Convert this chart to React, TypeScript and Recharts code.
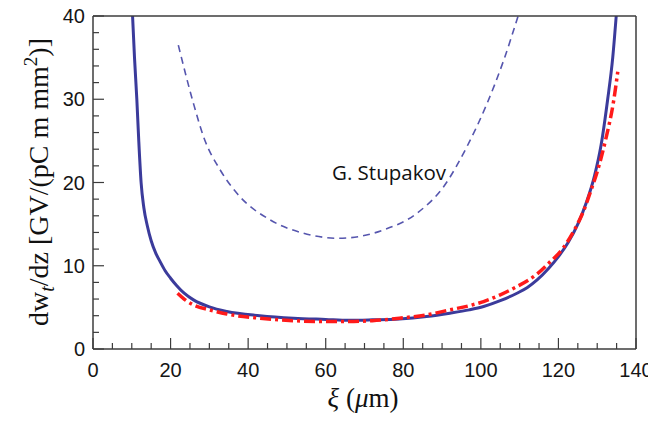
import { LineChart, Line, XAxis, YAxis } from 'recharts'

// wake field curves
const fullCalc = [
  { x: 10.2, y: 40 }, { x: 10.7, y: 35 }, { x: 11.3, y: 30 }, { x: 11.8, y: 25 },
  { x: 12.4, y: 20 }, { x: 13.1, y: 17 }, { x: 14.0, y: 14.8 }, { x: 15.0, y: 13.0 },
  { x: 16.1, y: 11.6 }, { x: 17.3, y: 10.5 }, { x: 18.6, y: 9.4 }, { x: 20, y: 8.5 },
  { x: 21.6, y: 7.6 }, { x: 23.5, y: 6.7 }, { x: 25.9, y: 5.9 }, { x: 30, y: 5.05 },
  { x: 34.5, y: 4.5 }, { x: 43, y: 4.0 }, { x: 51.7, y: 3.7 }, { x: 60, y: 3.55 },
  { x: 66, y: 3.45 }, { x: 72, y: 3.5 }, { x: 79, y: 3.6 }, { x: 86, y: 3.9 },
  { x: 92, y: 4.3 }, { x: 97, y: 4.7 }, { x: 100.7, y: 5.1 }, { x: 105, y: 5.8 },
  { x: 109.3, y: 6.7 }, { x: 112, y: 7.4 }, { x: 114.5, y: 8.3 }, { x: 117.5, y: 9.7 },
  { x: 120, y: 11.1 }, { x: 122.5, y: 12.8 }, { x: 125, y: 15 }, { x: 127.2, y: 17.6 },
  { x: 129.3, y: 20.8 }, { x: 131, y: 24.5 }, { x: 132.7, y: 30 }, { x: 134, y: 35 },
  { x: 134.9, y: 40 },
]

const fitCurve = [
  { x: 21.8, y: 6.7 }, { x: 23.5, y: 6.0 }, { x: 25.9, y: 5.3 }, { x: 30, y: 4.7 },
  { x: 34.5, y: 4.2 }, { x: 43, y: 3.7 }, { x: 51.7, y: 3.4 }, { x: 60, y: 3.3 },
  { x: 66, y: 3.3 }, { x: 72, y: 3.4 }, { x: 79, y: 3.7 }, { x: 86, y: 4.1 },
  { x: 92, y: 4.7 }, { x: 97, y: 5.2 }, { x: 100.7, y: 5.7 }, { x: 105, y: 6.5 },
  { x: 109.3, y: 7.5 }, { x: 112, y: 8.2 }, { x: 114.5, y: 9.0 }, { x: 117.5, y: 10.3 },
  { x: 121, y: 12.0 }, { x: 124, y: 14.2 }, { x: 126.5, y: 16.6 }, { x: 128.5, y: 19.2 },
  { x: 130, y: 21.3 }, { x: 132.1, y: 25 }, { x: 134.3, y: 30 }, { x: 135.3, y: 33.3 },
]

const stupakov = [
  { x: 22.0, y: 36.5 }, { x: 25.9, y: 29.5 }, { x: 28.5, y: 25.5 }, { x: 32.8, y: 21.5 },
  { x: 37.1, y: 18.7 }, { x: 45.7, y: 15.5 }, { x: 54.3, y: 13.9 }, { x: 63.3, y: 13.3 },
  { x: 74.9, y: 14.3 }, { x: 83.5, y: 16.3 }, { x: 90.4, y: 19.5 }, { x: 96.4, y: 24.3 },
  { x: 101.6, y: 29.5 }, { x: 105.9, y: 34.7 }, { x: 109.6, y: 40 },
]

const xTicks = [0, 5, 10, 15, 20, 25, 30, 35, 40, 45, 50, 55, 60, 65, 70, 75, 80, 85, 90, 95, 100, 105, 110, 115, 120, 125, 130, 135, 140]
const yTicks = [0, 2, 4, 6, 8, 10, 12, 14, 16, 18, 20, 22, 24, 26, 28, 30, 32, 34, 36, 38, 40]

const AXIS = '#3c3c3c'
const tickFont = { fontFamily: '"Liberation Sans", Arial, sans-serif', fontSize: 20, fill: '#151515' }

const isMajorX = (v: number) => v % 20 === 0
const isMajorY = (v: number) => v % 10 === 0

function BottomTick({ x, y, payload }: any) {
  const major = isMajorX(payload.value)
  return (
    <g>
      <line x1={x} x2={x} y1={y} y2={y - (major ? 11 : 6)} stroke={AXIS} strokeWidth={1.2} />
      {major && <text x={x} y={y + 28} textAnchor="middle" {...tickFont}>{payload.value}</text>}
    </g>
  )
}

function TopTick({ x, y, payload }: any) {
  const major = isMajorX(payload.value)
  return <line x1={x} x2={x} y1={y} y2={y + (major ? 11 : 6)} stroke={AXIS} strokeWidth={1.2} />
}

function LeftTick({ x, y, payload }: any) {
  const major = isMajorY(payload.value)
  return (
    <g>
      <line x1={x} x2={x + (major ? 11 : 6)} y1={y} y2={y} stroke={AXIS} strokeWidth={1.2} />
      {major && <text x={x - 8} y={y + 7} textAnchor="end" {...tickFont}>{payload.value}</text>}
    </g>
  )
}

function RightTick({ x, y, payload }: any) {
  const major = isMajorY(payload.value)
  return <line x1={x} x2={x - (major ? 11 : 6)} y1={y} y2={y} stroke={AXIS} strokeWidth={1.2} />
}

export default function App() {
  return (
    <div style={{ position: 'relative', width: 656, height: 423, margin: -8 }}>
      <LineChart width={656} height={423} margin={{ top: 0, right: 0, bottom: 0, left: 0 }}>
        <XAxis xAxisId="b" type="number" dataKey="x" domain={[0, 140]} ticks={xTicks} interval={0}
          height={74} tickSize={0} tickMargin={0} tick={BottomTick} axisLine={{ stroke: AXIS, strokeWidth: 1.5 }} />
        <XAxis xAxisId="t" orientation="top" type="number" dataKey="x" domain={[0, 140]} ticks={xTicks} interval={0}
          height={16} tickSize={0} tickMargin={0} tick={TopTick} axisLine={{ stroke: AXIS, strokeWidth: 1.5 }} />
        <YAxis yAxisId="l" type="number" domain={[0, 40]} ticks={yTicks} interval={0}
          width={93} tickSize={0} tickMargin={0} tick={LeftTick} axisLine={{ stroke: AXIS, strokeWidth: 1.5 }} />
        <YAxis yAxisId="r" orientation="right" type="number" domain={[0, 40]} ticks={yTicks} interval={0}
          width={20} tickSize={0} tickMargin={0} tick={RightTick} axisLine={{ stroke: AXIS, strokeWidth: 1.5 }} />
        <Line xAxisId="b" yAxisId="l" data={stupakov} dataKey="y" type="monotone" stroke="#5656ae"
          strokeWidth={1.6} strokeDasharray="7 5" dot={false} isAnimationActive={false} />
        <Line xAxisId="b" yAxisId="l" data={fullCalc} dataKey="y" type="monotone" stroke="#3b3b9b"
          strokeWidth={3} dot={false} isAnimationActive={false} />
        <Line xAxisId="b" yAxisId="l" data={fitCurve} dataKey="y" type="monotone" stroke="#ff1a1a"
          strokeWidth={3.5} strokeDasharray="11 4 3 4" dot={false} isAnimationActive={false} />
      </LineChart>
      <svg width={656} height={423} style={{ position: 'absolute', left: 0, top: 0, pointerEvents: 'none' }}>
        <text x={332} y={180} fontFamily='"Open Sans", sans-serif' fontSize={20.5} fill="#111">G. Stupakov</text>
        <text transform="translate(48,182) rotate(-90)" textAnchor="middle"
          fontFamily='"Liberation Serif", "Times New Roman", serif' fontSize={28} fill="#111">
          dw<tspan fontStyle="italic" fontSize={20} dy={6}>t</tspan>
          <tspan dy={-6}>/dz [GV/(pC m mm</tspan>
          <tspan fontSize={19} dy={-11}>2</tspan>
          <tspan dy={11}>)]</tspan>
        </text>
        <text x={363} y={407} textAnchor="middle"
          fontFamily='"Liberation Serif", "Times New Roman", serif' fontSize={27} fill="#111">
          <tspan fontStyle="italic">ξ</tspan> (<tspan fontStyle="italic">μ</tspan>m)
        </text>
      </svg>
    </div>
  )
}
